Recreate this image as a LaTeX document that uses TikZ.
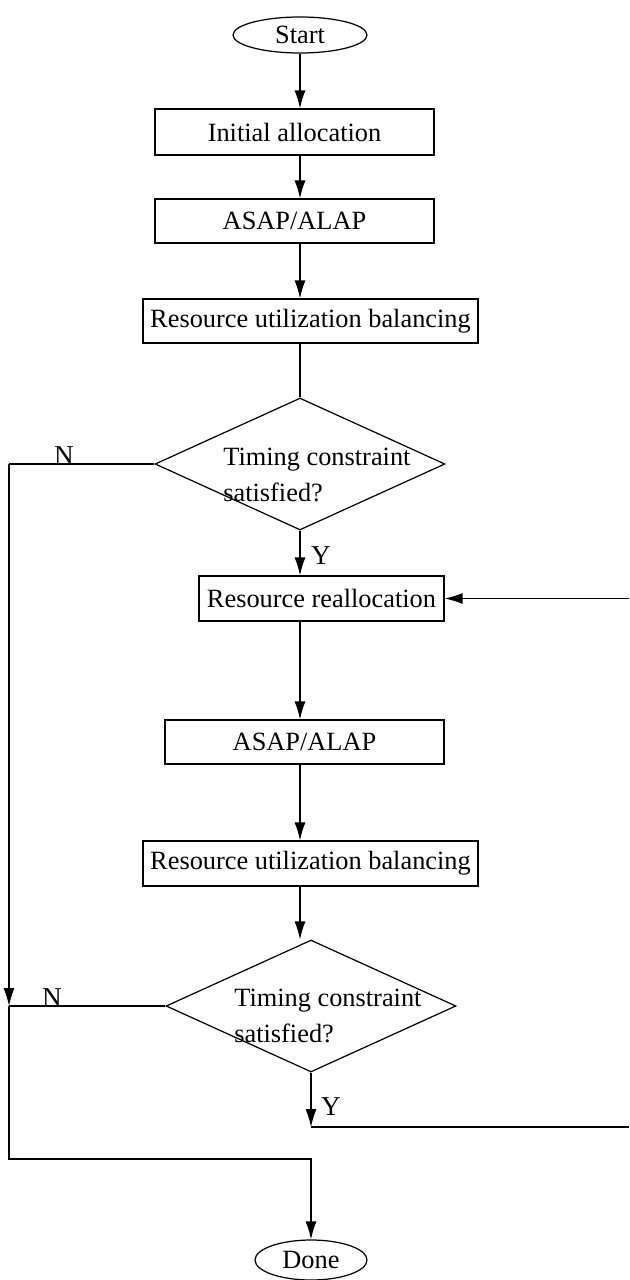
\documentclass[tikz,border=0pt]{standalone}
\usepackage{fontspec}
\setmainfont{Liberation Serif}
\usetikzlibrary{
    positioning,
    calc,
    shapes.geometric,
    arrows.meta
}
\tikzset{
    base/.style={draw, line width=0.7pt, inner sep=0pt,
        font=\fontsize{15}{18}\selectfont},
    terminal/.style={base, ellipse},
    procbox/.style={base, rectangle},
    decision/.style={base, diamond, minimum width=5.8cm, minimum height=2.64cm},
    question/.style={align=left, inner sep=0pt,
        font=\fontsize{15}{20.5}\selectfont},
    answer/.style={inner sep=0pt, font=\fontsize{15.5}{18}\selectfont},
    flow/.style={line width=0.7pt, -{Latex[length=3.6mm,width=2.2mm]}},
    link/.style={line width=0.7pt}
}

\begin{document}
\begin{tikzpicture}[x=0.02cm, y=-0.02cm]
                \useasboundingbox (0,0) rectangle (629,1280);

                % first pass
                \node[terminal, minimum width=2.68cm, minimum height=0.72cm]
                    (start) at (300,35) {Start};
                \node[procbox, minimum width=5.58cm, minimum height=0.92cm]
                    (init) at (294.5,132) {Initial allocation};
                \node[procbox, minimum width=5.58cm, minimum height=0.88cm]
                    (asap1) at (294.5,221) {ASAP/ALAP};
                \node[procbox, minimum width=6.7cm, minimum height=0.88cm]
                    (rub1) at (310.5,321) {Resource utilization balancing};
                \node[decision] (check1) at (300,464) {};
                \node[question, anchor=west] (check1txt) at (223,475)
                    {Timing constraint\\satisfied?};

                % reallocation loop
                \node[procbox, minimum width=4.9cm, minimum height=0.9cm]
                    (realloc) at (321.5,598.5) {Resource reallocation};
                \node[procbox, minimum width=5.58cm, minimum height=0.88cm]
                    (asap2) at (304.5,742) {ASAP/ALAP};
                \node[procbox, minimum width=6.7cm, minimum height=0.9cm]
                    (rub2) at (310.5,863.5) {Resource utilization balancing};
                \node[decision] (check2) at (311,1006) {};
                \node[question, anchor=west] (check2txt) at (234,1016)
                    {Timing constraint\\satisfied?};

                \node[terminal, minimum width=2.24cm, minimum height=0.8cm]
                    (done) at (311,1260) {Done};

                % labels
                \node[answer] (n1) at (64,456) {N};
                \node[answer] (y1) at (321,556) {Y};
                \node[answer] (n2) at (52,998) {N};
                \node[answer] (y2) at (331,1107) {Y};

                % corners
                \coordinate (left1) at (9,464);
                \coordinate (left2) at (9,1006);
                \coordinate (bottom) at (9,1159);
                \coordinate (back) at (629,1127);

                % connectors
                \draw[flow] (start) -- (start |- init.north);
                \draw[flow] (start |- init.south) -- (start |- asap1.north);
                \draw[flow] (start |- asap1.south) -- (start |- rub1.north);
                \draw[link] (start |- rub1.south) -- (check1.north);
                \draw[flow] (check1.south) -- (start |- realloc.north);
                \draw[link] (check1.west) -- (left1);
                \draw[flow] (left1) -- (left2);
                \draw[link] (check2.west) -- (left2);
                \draw[flow] (left2) -- (bottom) -- (bottom -| done) -- (done.north);
                \draw[flow] (back |- realloc.east) -- (realloc.east);
                \draw[flow] (start |- realloc.south) -- (start |- asap2.north);
                \draw[flow] (start |- asap2.south) -- (start |- rub2.north);
                \draw[flow] (start |- rub2.south) -- (start |- check2.north);
                \draw[flow] (check2.south) -- (check2.south |- back);
                \draw[link] (check2.south |- back) -- (back);
            \end{tikzpicture}
\end{document}
